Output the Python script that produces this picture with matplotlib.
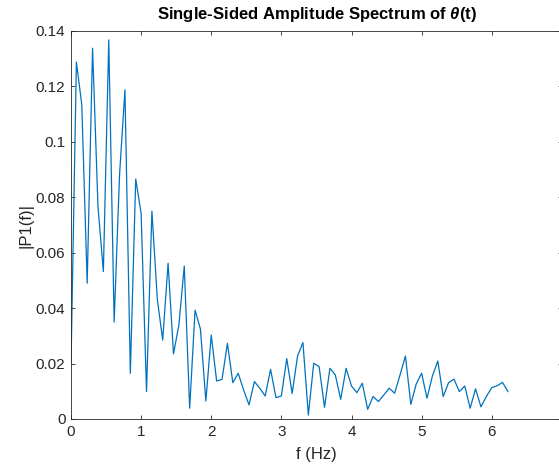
import numpy as np
import matplotlib
matplotlib.use("Agg")
import matplotlib.pyplot as plt

df = 0.0769
amp = [0.0195, 0.1288, 0.1134, 0.0490, 0.1338, 0.0767, 0.0532, 0.1368, 0.0350, 0.0881,
       0.1188, 0.0165, 0.0866, 0.0742, 0.0099, 0.0750, 0.0433, 0.0285, 0.0562, 0.0235,
       0.0339, 0.0552, 0.0039, 0.0393, 0.0324, 0.0065, 0.0303, 0.0137, 0.0143, 0.0273,
       0.0131, 0.0165, 0.0105, 0.0051, 0.0135, 0.0111, 0.0083, 0.0179, 0.0077, 0.0083,
       0.0218, 0.0092, 0.0227, 0.0276, 0.0014, 0.0201, 0.0189, 0.0042, 0.0183, 0.0159,
       0.0071, 0.0183, 0.0119, 0.0095, 0.0129, 0.0035, 0.0081, 0.0063, 0.0087, 0.0111,
       0.0093, 0.0159, 0.0227, 0.0053, 0.0126, 0.0165, 0.0075, 0.0155, 0.0209, 0.0081,
       0.0131, 0.0144, 0.0099, 0.0119, 0.0039, 0.0109, 0.0044, 0.0081, 0.0113, 0.0120,
       0.0132, 0.0099]
freq = np.arange(len(amp)) * df

xticks = [0, 1, 2, 3, 4, 5, 6, 7]
yticks = [0, 0.02, 0.04, 0.06, 0.08, 0.1, 0.12, 0.14]
ytick_labels = ["0", "0.02", "0.04", "0.06", "0.08", "0.1", "0.12", "0.14"]

plt.rcParams['font.family'] = ['Liberation Sans', 'DejaVu Sans']
plt.rcParams['mathtext.fontset'] = 'custom'
plt.rcParams['mathtext.it'] = 'Liberation Sans:italic:bold'
plt.rcParams['mathtext.rm'] = 'Liberation Sans:bold'

fig = plt.figure(figsize=(5.59, 4.70), dpi=100)
ax = fig.add_axes([71/559, 1 - 419/470, (562 - 71)/559, (419 - 31)/470])
ax.plot(freq, amp, color='#0072BD', lw=0.9)

ax.set_xlim(0, 7)
ax.set_ylim(0, 0.14)
ax.set_xticks(xticks)
ax.set_yticks(yticks)
ax.set_yticklabels(ytick_labels)
tc = '#262626'
ax.tick_params(direction='in', top=True, right=True, length=3, width=0.6,
               colors=tc, labelsize=11, pad=4)
for s in ax.spines.values():
    s.set_color(tc)
    s.set_linewidth(0.6)

ax.set_xlabel('f (Hz)', fontsize=12, color=tc, labelpad=6)
ax.set_ylabel('|P1(f)|', fontsize=12, color=tc, labelpad=2)
ax.set_title(r'Single-Sided Amplitude Spectrum of $\theta$(t)', fontsize=12,
             fontweight='bold', color='black', pad=9)

fig.savefig('out.png', dpi=100)
